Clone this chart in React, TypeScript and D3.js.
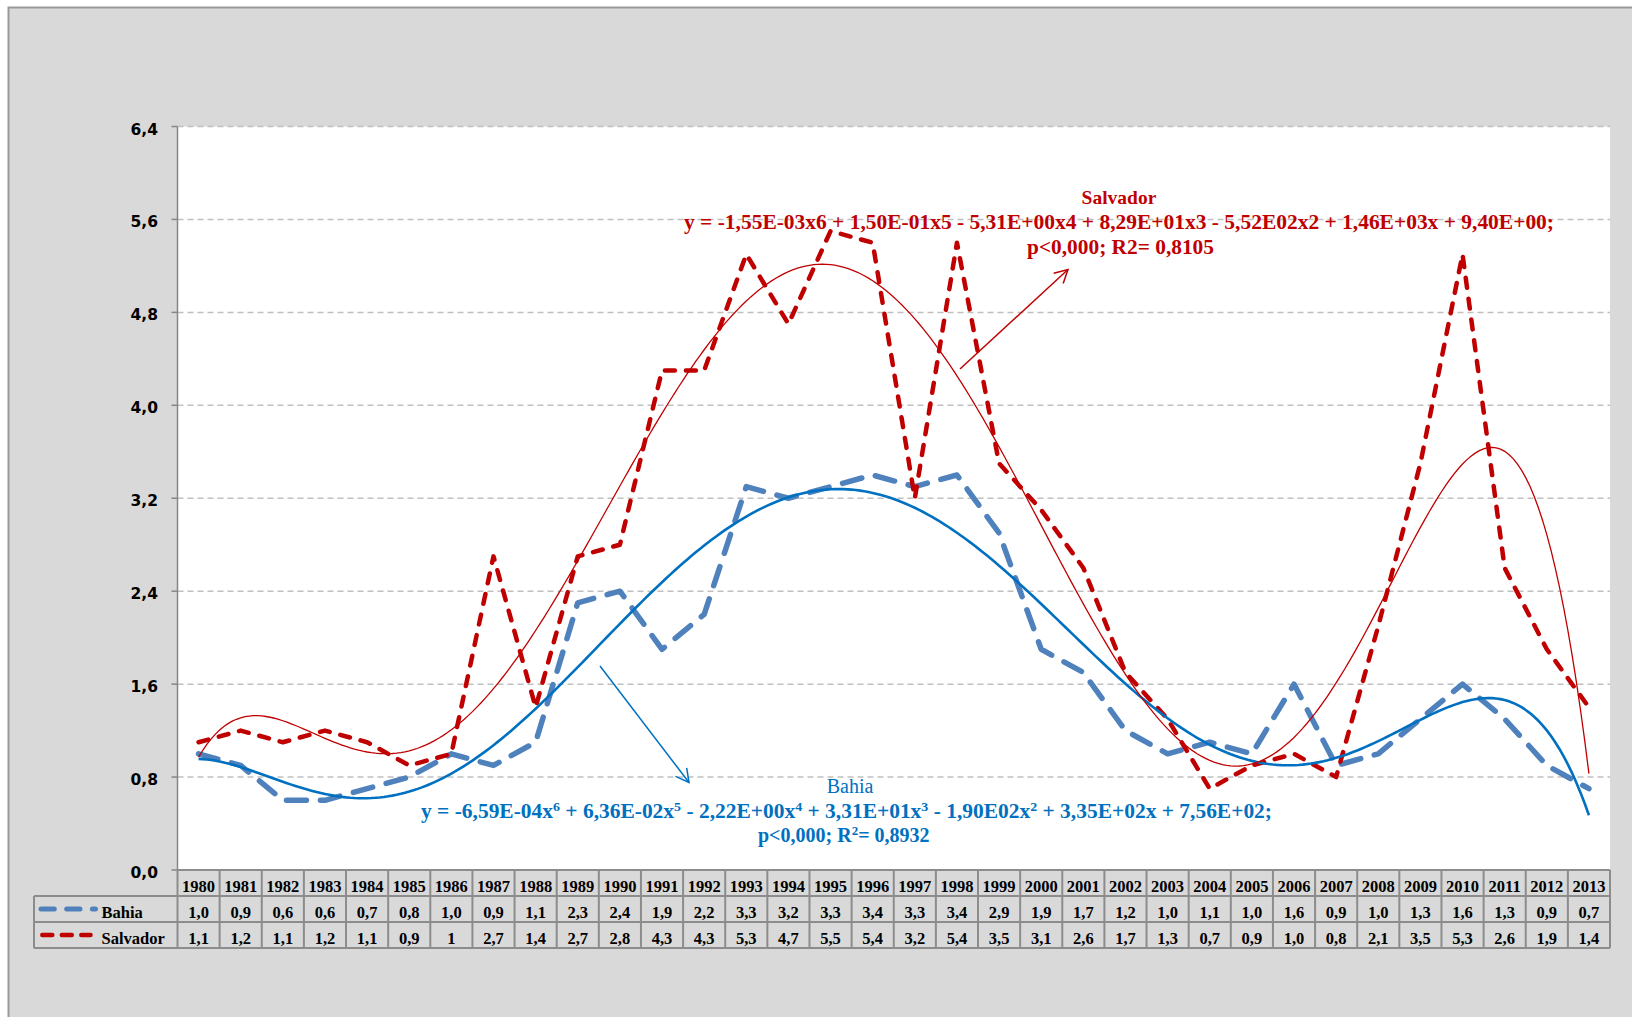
import React, { useMemo } from "react";
import * as d3 from "d3";

// Categories
const years = [
  "1980", "1981", "1982", "1983", "1984", "1985", "1986", "1987", "1988", "1989",
  "1990", "1991", "1992", "1993", "1994", "1995", "1996", "1997", "1998", "1999",
  "2000", "2001", "2002", "2003", "2004", "2005", "2006", "2007", "2008", "2009",
  "2010", "2011", "2012", "2013",
];

// Series values
const bahia = [
  1.0, 0.9, 0.6, 0.6, 0.7, 0.8, 1.0, 0.9, 1.1, 2.3, 2.4, 1.9, 2.2, 3.3, 3.2, 3.3, 3.4,
  3.3, 3.4, 2.9, 1.9, 1.7, 1.2, 1.0, 1.1, 1.0, 1.6, 0.9, 1.0, 1.3, 1.6, 1.3, 0.9, 0.7,
];
const salvador = [
  1.1, 1.2, 1.1, 1.2, 1.1, 0.9, 1.0, 2.7, 1.4, 2.7, 2.8, 4.3, 4.3, 5.3, 4.7, 5.5, 5.4,
  3.2, 5.4, 3.5, 3.1, 2.6, 1.7, 1.3, 0.7, 0.9, 1.0, 0.8, 2.1, 3.5, 5.3, 2.6, 1.9, 1.4,
];
// Cells of the data table printed differently from the default one-decimal format
const salvadorCellText: Record<string, string> = { "1986": "1" };

// Y axis ticks
const yTicks = [0, 0.8, 1.6, 2.4, 3.2, 4.0, 4.8, 5.6, 6.4];

// Trendline captions
const salvadorTitle = "Salvador";
const salvadorEquation =
  "y = -1,55E-03x6  + 1,50E-01x5  - 5,31E+00x4  + 8,29E+01x3  - 5,52E02x2  + 1,46E+03x  + 9,40E+00;";
const salvadorStats = "p<0,000;  R2= 0,8105";
const bahiaTitle = "Bahia";
const bahiaEquationParts: [string, string][] = [
  ["y = -6,59E-04x", "6"],
  ["  + 6,36E-02x", "5"],
  [" - 2,22E+00x", "4"],
  ["  + 3,31E+01x", "3"],
  [" - 1,90E02x", "2"],
  ["  + 3,35E+02x  + 7,56E+02;", ""],
];

const W = 1632;
const H = 1017;
const plot = { left: 177.5, right: 1610, top: 126.5, bottom: 870 };
const rowH = 26;

const RED = "#c00000";
const BLUE_TXT = "#0070c0";
const BLUE_DATA = "#4f81bd";
const SERIF = "'Liberation Serif', 'Times New Roman', serif";

// Least-squares polynomial fit (normal equations, Gaussian elimination)
function polyfit(xs: number[], ys: number[], deg: number): number[] {
  const n = deg + 1;
  const A: number[][] = Array.from({ length: n }, () => new Array(n + 1).fill(0));
  xs.forEach((x, k) => {
    for (let i = 0; i < n; i++) {
      for (let j = 0; j < n; j++) A[i][j] += Math.pow(x, i + j);
      A[i][n] += ys[k] * Math.pow(x, i);
    }
  });
  for (let c = 0; c < n; c++) {
    let p = c;
    for (let r = c + 1; r < n; r++) if (Math.abs(A[r][c]) > Math.abs(A[p][c])) p = r;
    [A[c], A[p]] = [A[p], A[c]];
    for (let r = 0; r < n; r++) {
      if (r === c) continue;
      const f = A[r][c] / A[c][c];
      for (let k = c; k <= n; k++) A[r][k] -= f * A[c][k];
    }
  }
  return A.map((row, i) => row[n] / row[i]);
}

function trendPoints(values: number[]): [number, number][] {
  const mid = (values.length - 1) / 2;
  const ts = values.map((_, i) => (i - mid) / mid);
  const coef = polyfit(ts, values, 6);
  const out: [number, number][] = [];
  for (let s = 0; s <= (values.length - 1) * 10; s++) {
    const i = s / 10;
    const t = (i - mid) / mid;
    const v = coef.reduce((acc, c, k) => acc + c * Math.pow(t, k), 0);
    out.push([i, v]);
  }
  return out;
}

const fmt = (v: number) => v.toFixed(1).replace(".", ",");

export default function App() {
  const x = useMemo(
    () => d3.scaleBand<string>().domain(years).range([plot.left, plot.right]).padding(0),
    []
  );
  const y = useMemo(
    () => d3.scaleLinear().domain([0, 6.4]).range([plot.bottom, plot.top]),
    []
  );
  const bw = x.bandwidth();
  const cx = (i: number) => (x(years[0]) as number) + (i + 0.5) * bw;

  const dataLine = d3
    .line<number>()
    .x((_, i) => cx(i))
    .y((v) => y(v));
  const trendLine = d3
    .line<[number, number]>()
    .x((d) => cx(d[0]))
    .y((d) => y(d[1]))
    .curve(d3.curveLinear);

  const bahiaTrend = useMemo(() => trendPoints(bahia), []);
  const salvadorTrend = useMemo(() => trendPoints(salvador), []);

  const tableTop = plot.bottom;
  const row1 = tableTop + rowH;
  const row2 = row1 + rowH;
  const row3 = row2 + rowH;
  const legendLeft = 34;
  const gridColor = "#8c8c8c";

  return (
    <svg
      width={W}
      height={H}
      viewBox={`0 0 ${W} ${H}`}
      style={{ position: "absolute", left: 0, top: 0, display: "block" }}
    >
      <defs>
        <marker
          id="arrowRed"
          markerUnits="userSpaceOnUse"
          markerWidth={18}
          markerHeight={18}
          refX={14}
          refY={8}
          orient="auto"
        >
          <path d="M1,1 L14,8 L1,15" fill="none" stroke={RED} strokeWidth={1.5} />
        </marker>
        <marker
          id="arrowBlue"
          markerUnits="userSpaceOnUse"
          markerWidth={18}
          markerHeight={18}
          refX={14}
          refY={8}
          orient="auto"
        >
          <path d="M1,1 L14,8 L1,15" fill="none" stroke={BLUE_TXT} strokeWidth={1.5} />
        </marker>
      </defs>

      {/* chart background and frame */}
      <rect x={0} y={0} width={W} height={H} fill="#ffffff" />
      <rect x={8.5} y={7.5} width={W + 20} height={H + 20} fill="#d9d9d9" stroke="#999999" strokeWidth={2} />

      {/* plot area */}
      <rect
        x={plot.left}
        y={plot.top}
        width={plot.right - plot.left}
        height={plot.bottom - plot.top}
        fill="#ffffff"
      />

      {/* gridlines */}
      {yTicks
        .filter((t) => t > 0)
        .map((t) => (
          <line
            key={`g${t}`}
            x1={plot.left}
            x2={plot.right}
            y1={y(t)}
            y2={y(t)}
            stroke="#c0c0c0"
            strokeWidth={1.5}
            strokeDasharray="6 4"
          />
        ))}

      {/* y axis */}
      <line x1={plot.left} x2={plot.left} y1={plot.top} y2={plot.bottom} stroke="#868686" strokeWidth={1.5} />
      {yTicks.map((t) => (
        <g key={`t${t}`}>
          <line x1={plot.left - 6} x2={plot.left} y1={y(t)} y2={y(t)} stroke="#868686" strokeWidth={1.5} />
          <text
            x={158}
            y={y(t)}
            dy="0.52em"
            textAnchor="end"
            fontFamily="'DejaVu Sans', Verdana, sans-serif"
            fontWeight="bold"
            fontSize={15.5}
            fill="#000"
          >
            {fmt(t)}
          </text>
        </g>
      ))}

      {/* data series */}
      <path
        d={dataLine(bahia) ?? ""}
        fill="none"
        stroke={BLUE_DATA}
        strokeWidth={5.5}
        strokeDasharray="20 14"
        strokeLinecap="round"
        strokeLinejoin="round"
      />
      <path
        d={dataLine(salvador) ?? ""}
        fill="none"
        stroke={RED}
        strokeWidth={4.5}
        strokeDasharray="10 11"
        strokeLinecap="round"
        strokeLinejoin="round"
      />

      {/* 6th order polynomial trendlines */}
      <path d={trendLine(bahiaTrend) ?? ""} fill="none" stroke={BLUE_TXT} strokeWidth={2.6} />
      <path d={trendLine(salvadorTrend) ?? ""} fill="none" stroke={RED} strokeWidth={1.3} />

      {/* trendline captions */}
      <g fontFamily={SERIF} style={{ whiteSpace: "pre" }}>
        <text x={1119} y={203.5} textAnchor="middle" fontWeight="bold" fontSize={19.5} fill={RED}>
          {salvadorTitle}
        </text>
        <text
          x={684}
          y={228.5}
          fontWeight="bold"
          fontSize={20}
          fill={RED}
          textLength={870}
          lengthAdjust="spacingAndGlyphs"
        >
          {salvadorEquation}
        </text>
        <text
          x={1027}
          y={253.5}
          fontWeight="bold"
          fontSize={20}
          fill={RED}
          textLength={187}
          lengthAdjust="spacingAndGlyphs"
        >
          {salvadorStats}
        </text>

        <text x={850} y={793} textAnchor="middle" fontSize={20} fill={BLUE_TXT}>
          {bahiaTitle}
        </text>
        <text
          x={421}
          y={818}
          fontWeight="bold"
          fontSize={20}
          fill={BLUE_TXT}
          textLength={851}
          lengthAdjust="spacingAndGlyphs"
        >
          {bahiaEquationParts.map(([base, sup], i) => (
            <React.Fragment key={i}>
              <tspan>{base}</tspan>
              {sup ? (
                <tspan baselineShift="super" fontSize={13}>
                  {sup}
                </tspan>
              ) : null}
            </React.Fragment>
          ))}
        </text>
        <text x={758} y={842} fontWeight="bold" fontSize={20} fill={BLUE_TXT}>
          <tspan>{"p<0,000; R"}</tspan>
          <tspan baselineShift="super" fontSize={13}>
            2
          </tspan>
          <tspan>{"= 0,8932"}</tspan>
        </text>
      </g>

      {/* pointer arrows */}
      <line x1={960} y1={369} x2={1068} y2={269.5} stroke={RED} strokeWidth={1.5} markerEnd="url(#arrowRed)" />
      <line x1={600} y1={666} x2={689} y2={782.5} stroke={BLUE_TXT} strokeWidth={1.5} markerEnd="url(#arrowBlue)" />

      {/* data table */}
      <g fontFamily={SERIF} fontWeight="bold" fontSize={16.5} fill="#000">
        {years.map((yr, i) => (
          <g key={yr}>
            <text x={cx(i)} y={row1 - 4.5} textAnchor="middle">
              {yr}
            </text>
            <text x={cx(i)} y={row2 - 4.5} textAnchor="middle">
              {fmt(bahia[i])}
            </text>
            <text x={cx(i)} y={row3 - 4.5} textAnchor="middle">
              {salvadorCellText[yr] ?? fmt(salvador[i])}
            </text>
          </g>
        ))}
        <text x={101.5} y={row2 - 4.5}>
          Bahia
        </text>
        <text x={101.5} y={row3 - 4.5}>
          Salvador
        </text>
      </g>
      {/* table grid */}
      <g stroke={gridColor} strokeWidth={2} fill="none">
        <line x1={plot.left} x2={plot.right} y1={tableTop} y2={tableTop} />
        <line x1={legendLeft} x2={plot.right} y1={row1} y2={row1} />
        <line x1={legendLeft} x2={plot.right} y1={row2} y2={row2} />
        <line x1={legendLeft} x2={plot.right} y1={row3} y2={row3} />
        <line x1={legendLeft} x2={legendLeft} y1={row1} y2={row3} />
        {years.map((yr) => (
          <line
            key={yr}
            x1={(x(yr) as number)}
            x2={(x(yr) as number)}
            y1={tableTop}
            y2={row3}
          />
        ))}
        <line x1={plot.right} x2={plot.right} y1={tableTop} y2={row3} />
      </g>

      {/* legend keys */}
      <line
        x1={41}
        x2={95.5}
        y1={row1 + rowH / 2}
        y2={row1 + rowH / 2}
        stroke={BLUE_DATA}
        strokeWidth={5}
        strokeDasharray="13.3 12.4"
        strokeLinecap="round"
      />
      <line
        x1={42.3}
        x2={90.5}
        y1={row2 + rowH / 2}
        y2={row2 + rowH / 2}
        stroke={RED}
        strokeWidth={4.5}
        strokeDasharray="10 9.5"
        strokeLinecap="round"
      />
    </svg>
  );
}
